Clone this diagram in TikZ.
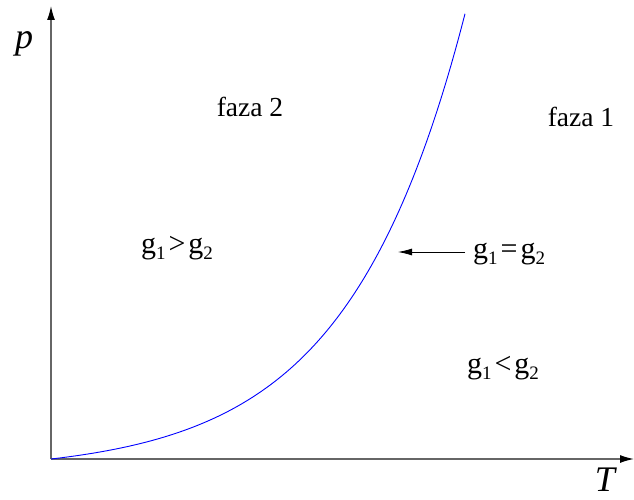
\documentclass[tikz,border=0pt]{standalone}
\usepackage{fontspec}
\setmainfont{Liberation Serif}
\usetikzlibrary{arrows.meta}
\newcommand\lsub[1]{\raisebox{-0.2em}{\fontsize{19}{19}\selectfont #1}}
\begin{document}
\begin{tikzpicture}[x=1pt,y=-1pt,
  axis/.style={line width=1.4pt,draw=black!60,-{Latex[length=14pt,width=8pt,black]}},
  region/.style={anchor=base,inner sep=0pt,font=\fontsize{27.5}{27.5}\selectfont},
  rel/.style={anchor=base,inner sep=0pt,font=\fontsize{30}{30}\selectfont},
  axlabel/.style={inner sep=0pt,font=\fontsize{36}{36}\selectfont\itshape},
  phase/.style={draw=blue,line width=0.9pt},
  pointer/.style={line width=0.8pt,-{Latex[length=14pt,width=7pt]}}]
\useasboundingbox (0,0) rectangle (634,500);
\coordinate (O) at (51,459);
\coordinate (xend) at (634,459);
\coordinate (yend) at (51,6);
\draw[axis] (O) -- (xend);
\draw[axis] (O) -- (yend);
\node[axlabel] (p) at (24,44) {p};
\node[axlabel] (T) at (605,480) {T};
\draw[phase] plot[domain=51:465,samples=120] (\x,{459-13.6*(exp(0.0085*(\x-51))-1)});
\coordinate (tip) at (398,252);
\node[region] (f2) at (250,117) {faza 2};
\node[region] (f1) at (581,126) {faza 1};
\node[rel] (gt) at (177,253) {g\lsub{1}\kern3pt>\kern3pt g\lsub{2}};
\node[rel,anchor=base west] (eq) at (473,258) {g\lsub{1}\kern3pt=\kern3pt g\lsub{2}};
\node[rel] (lt) at (503,373) {g\lsub{1}\kern3pt<\kern3pt g\lsub{2}};
\draw[pointer] ([xshift=-8pt]eq.west |- tip) -- (tip);
\end{tikzpicture}
\end{document}
